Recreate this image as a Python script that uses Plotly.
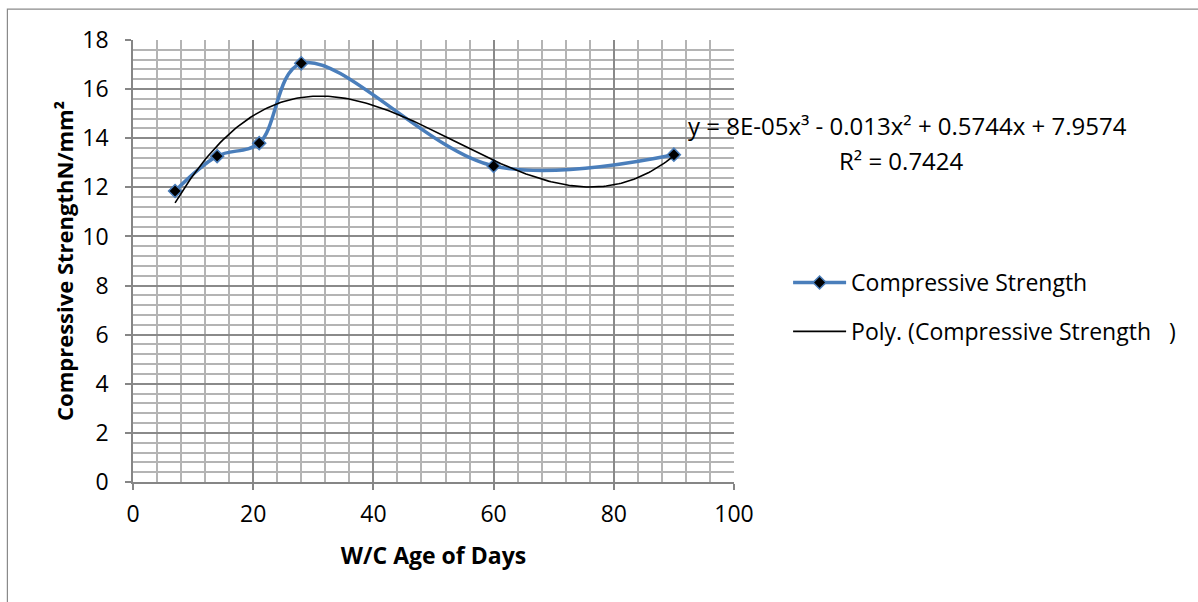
import numpy as np
import plotly.graph_objects as go

# Test age (days) and measured compressive strength (N/mm²)
age_days = [7, 14, 21, 28, 60, 90]
strength = [11.85, 13.27, 13.8, 17.05, 12.87, 13.33]

x_ticks = [0, 20, 40, 60, 80, 100]
y_ticks = [0, 2, 4, 6, 8, 10, 12, 14, 16, 18]

equation_text = "y = 8E-05x³ - 0.013x² + 0.5744x + 7.9574"
r2_text = "R² = 0.7424"

FONT = "Open Sans"
FSIZE = 23
BLUE = "#4A7EBB"

# Third-order polynomial trendline fitted to the measurements
coef = np.polyfit(age_days, strength, 3)
trend_x = np.linspace(min(age_days), max(age_days), 200)
trend_y = np.polyval(coef, trend_x)

fig = go.Figure()
fig.add_trace(go.Scatter(
    x=age_days, y=strength, mode="lines+markers",
    name="Compressive Strength",
    line=dict(color=BLUE, width=3.5, shape="spline", smoothing=1.0),
    marker=dict(symbol="diamond", size=10, color="black",
                line=dict(color=BLUE, width=1.5)),
    legendgroup="a",
))
fig.add_trace(go.Scatter(
    x=trend_x, y=trend_y, mode="lines",
    name="Poly. (Compressive Strength   )",
    line=dict(color="black", width=1.6),
    legendgroup="b",
))

axis_common = dict(
    showline=True, linecolor="#868686", linewidth=1.5,
    ticks="outside", ticklen=6, tickcolor="#868686", tickwidth=1.5,
    showgrid=True, gridcolor="#8a8a8a", gridwidth=1.6,
    zeroline=False,
    tickfont=dict(family=FONT, size=FSIZE, color="black"),
)

fig.update_xaxes(
    range=[0, 100], tickvals=x_ticks,
    minor=dict(dtick=4, showgrid=True, gridcolor="#b4b4b4", gridwidth=1.5),
    ticklabelstandoff=5,
    title=dict(text="<b>W/C Age of Days</b>", standoff=20,
               font=dict(family=FONT, size=FSIZE, color="black")),
    **axis_common,
)
fig.update_yaxes(
    range=[0, 18], tickvals=y_ticks,
    minor=dict(dtick=0.4, showgrid=True, gridcolor="#b4b4b4", gridwidth=1.5),
    ticklabelstandoff=12,
    title=dict(text="<b>Compressive StrengthN/mm²</b>", standoff=3,
               font=dict(family=FONT, size=22, color="black")),
    **axis_common,
)

# Trendline equation and R² label
fig.add_annotation(
    xref="paper", yref="paper", x=1.2895, y=0.806,
    text=equation_text, showarrow=False,
    xanchor="center", yanchor="middle",
    font=dict(family=FONT, size=24, color="black"),
)
fig.add_annotation(
    xref="paper", yref="paper", x=1.278, y=0.7285,
    text=r2_text, showarrow=False,
    xanchor="center", yanchor="middle",
    font=dict(family=FONT, size=24, color="black"),
)

# Chart-area frame
fig.add_shape(type="rect", xref="paper", yref="paper",
              x0=-0.209, x1=1.80, y0=-0.40, y1=1.07,
              line=dict(color="#8a8a8a", width=1.2), layer="below")

fig.update_layout(
    width=1198, height=602,
    margin=dict(l=133, r=464, t=40, b=120),
    paper_bgcolor="white", plot_bgcolor="white",
    showlegend=True,
    legend=dict(
        x=1.09, y=0.50, xanchor="left", yanchor="top",
        traceorder="grouped", tracegroupgap=16, itemwidth=53,
        font=dict(family=FONT, size=FSIZE, color="black"),
        bgcolor="rgba(0,0,0,0)",
    ),
)

fig.write_html("out.html")
